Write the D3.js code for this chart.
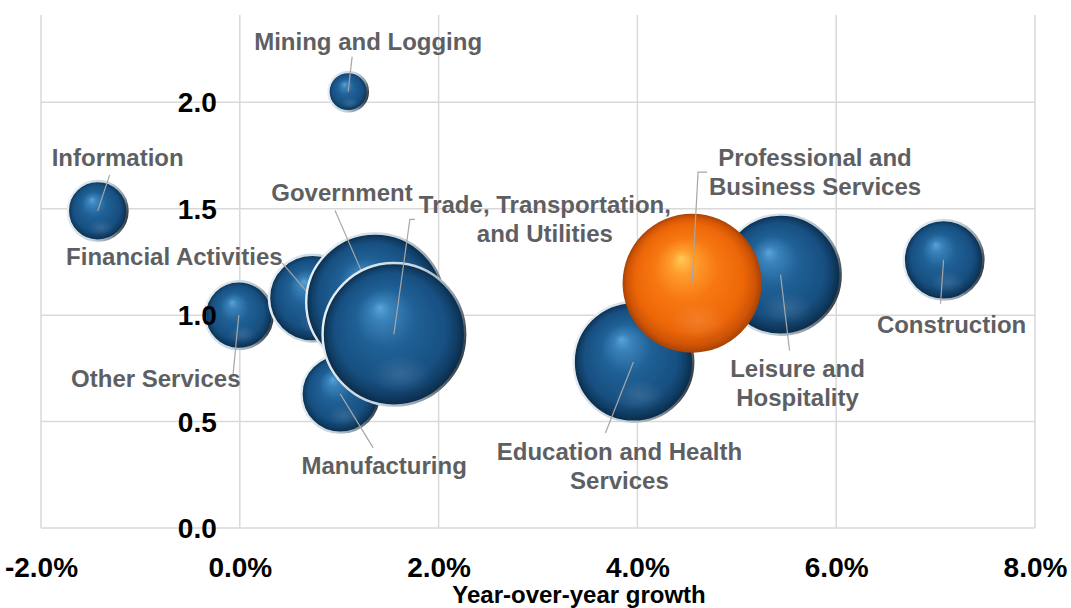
<!DOCTYPE html>
<html>
<head>
<meta charset="utf-8">
<script src="https://cdn.jsdelivr.net/npm/d3@7/dist/d3.min.js"></script>
<style>
  html, body { margin: 0; padding: 0; background: #ffffff; }
  svg { display: block; }
  text { font-family: "Liberation Sans", Arial, Helvetica, sans-serif; font-weight: bold; }
</style>
</head>
<body>
<svg id="chart" width="1071" height="608"></svg>
<script>
// Employment by industry sector: growth vs. ratio, bubble area = jobs (thousands)
const sectors = [
  "Information", "Mining and Logging", "Other Services", "Financial Activities",
  "Government", "Manufacturing", "Trade, Transportation, and Utilities",
  "Education and Health Services", "Leisure and Hospitality",
  "Professional and Business Services", "Construction"
];
const growth = [-1.43, 1.09, -0.01, 0.73, 1.36, 1.01, 1.55, 3.96, 5.44, 4.55, 7.08];
const ratio  = [1.49, 2.05, 1.00, 1.08, 1.06, 0.63, 0.91, 0.78, 1.19, 1.15, 1.26];
const jobs   = [97, 44, 124, 200, 494, 161, 530, 375, 379, 487, 170];
const highlighted = "Professional and Business Services";

const xTicks = [-2, 0, 2, 4, 6, 8];
const yTicks = [0, 0.5, 1.0, 1.5, 2.0];
const xTitle = "Year-over-year growth";

// Label text lines per sector
const labelLines = {
  "Information": ["Information"],
  "Mining and Logging": ["Mining and Logging"],
  "Other Services": ["Other Services"],
  "Financial Activities": ["Financial Activities"],
  "Government": ["Government"],
  "Manufacturing": ["Manufacturing"],
  "Trade, Transportation, and Utilities": ["Trade, Transportation,", "and Utilities"],
  "Education and Health Services": ["Education and Health", "Services"],
  "Leisure and Hospitality": ["Leisure and", "Hospitality"],
  "Professional and Business Services": ["Professional and", "Business Services"],
  "Construction": ["Construction"]
};

// Label placement relative to bubble centre: text offset + leader line path points
const labelLayout = {
  "Information": { dx: 20, dy: -45, leader: [[12, -36]] },
  "Mining and Logging": { dx: 20, dy: -42, leader: [[4, -35]] },
  "Other Services": { dx: -83, dy: 72, leader: [[-6, 62]] },
  "Financial Activities": { dx: -138, dy: -33, leader: [[-30, -35]] },
  "Government": { dx: -33, dy: -101, leader: [[-40, -92]] },
  "Manufacturing": { dx: 44, dy: 80, leader: [[33, 54]] },
  "Trade, Transportation, and Utilities": { dx: 151, dy: -121, leader: [[21, -115], [16, -115]] },
  "Education and Health Services": { dx: -14, dy: 98, leader: [[-28, 71]] },
  "Leisure and Hospitality": { dx: 17, dy: 102, leader: [[9, 76]] },
  "Professional and Business Services": { dx: 123, dy: -117, leader: [[15, -111], [6, -111]] },
  "Construction": { dx: 8, dy: 73, leader: [[-3, 44]] }
};

const svg = d3.select("#chart");
const plot = { left: 41, right: 1035, top: 15, bottom: 528 };

const x = d3.scaleLinear().domain([-2, 8]).range([plot.left, plot.right]);
const y = d3.scaleLinear().domain([0, 2.41]).range([plot.bottom, plot.top]);
const r = d3.scaleSqrt().domain([0, d3.max(jobs)]).range([0, 72.5]);

// ---- gradients ----
const defs = svg.append("defs");

function sphereGradient(id, stops, fx, fy) {
  const g = defs.append("radialGradient").attr("id", id)
    .attr("cx", "50%").attr("cy", "50%").attr("r", "50%")
    .attr("fx", fx).attr("fy", fy);
  stops.forEach(([o, c]) => g.append("stop").attr("offset", o).attr("stop-color", c));
}
sphereGradient("blueBody", [
  [0, "#58a4da"], [0.14, "#3a82ba"], [0.42, "#1f6095"],
  [0.78, "#174f81"], [0.9, "#103e66"], [1, "#0a2a46"]
], "40%", "31%");
sphereGradient("orangeBody", [
  [0, "#ffca55"], [0.18, "#ff9c2c"], [0.45, "#f77812"],
  [0.78, "#ec6608"], [0.92, "#cf5406"], [1, "#a84204"]
], "42%", "32%");

// soft glow low on the sphere
const refl = defs.append("radialGradient").attr("id", "reflection")
  .attr("cx", "50%").attr("cy", "50%").attr("r", "50%");
refl.append("stop").attr("offset", 0).attr("stop-color", "#ffffff").attr("stop-opacity", 0.12);
refl.append("stop").attr("offset", 1).attr("stop-color", "#ffffff").attr("stop-opacity", 0);

// rim: pale on the lit side, dark on the shaded right
const rim = defs.append("linearGradient").attr("id", "rim")
  .attr("x1", "0%").attr("y1", "35%").attr("x2", "100%").attr("y2", "65%");
rim.append("stop").attr("offset", 0).attr("stop-color", "#e8eff4");
rim.append("stop").attr("offset", 0.55).attr("stop-color", "#c3d3de");
rim.append("stop").attr("offset", 0.82).attr("stop-color", "#8d9aa4");
rim.append("stop").attr("offset", 1).attr("stop-color", "#2e3740");

// ---- grid ----
const grid = svg.append("g").attr("class", "grid");
grid.selectAll("line.v").data(xTicks).join("line")
  .attr("class", "v")
  .attr("x1", d => x(d)).attr("x2", d => x(d))
  .attr("y1", plot.top).attr("y2", plot.bottom)
  .attr("stroke", "#d9d9d9").attr("stroke-width", 1.5);
grid.selectAll("line.h").data(yTicks).join("line")
  .attr("class", "h")
  .attr("x1", plot.left).attr("x2", plot.right)
  .attr("y1", d => y(d)).attr("y2", d => y(d))
  .attr("stroke", "#d9d9d9").attr("stroke-width", 1.5);

// ---- bubbles with their labels ----
const data = sectors.map((s, i) => ({
  name: s, gx: growth[i], ry: ratio[i], size: jobs[i]
}));

const items = svg.append("g").selectAll("g.item").data(data).join("g").attr("class", "item");

items.each(function (d) {
  const g = d3.select(this);
  const cx = x(d.gx), cy = y(d.ry), rad = r(d.size);
  const isHi = d.name === highlighted;

  g.append("circle")
    .attr("cx", cx).attr("cy", cy).attr("r", isHi ? rad : rad - 1.2)
    .attr("fill", isHi ? "url(#orangeBody)" : "url(#blueBody)");

  g.append("ellipse")
    .attr("cx", cx + rad * 0.1).attr("cy", cy + rad * 0.55)
    .attr("rx", rad * 0.42).attr("ry", rad * 0.26)
    .attr("fill", "url(#reflection)");

  if (!isHi) {
    g.append("circle")
      .attr("cx", cx).attr("cy", cy).attr("r", rad - 1.2)
      .attr("fill", "none")
      .attr("stroke", "url(#rim)").attr("stroke-width", 2.4);
  }

  const lay = labelLayout[d.name];
  const pts = lay.leader.map(p => [cx + p[0], cy + p[1]]).concat([[cx, cy]]);
  g.append("path")
    .attr("d", d3.line()(pts))
    .attr("fill", "none")
    .attr("stroke", "#a6a6a6").attr("stroke-width", 1.2);

  const t = g.append("text")
    .attr("text-anchor", "middle")
    .attr("fill", "#5e5f63")
    .style("font-size", "24px");
  labelLines[d.name].forEach((line, k) => {
    t.append("tspan")
      .attr("x", cx + lay.dx)
      .attr("y", cy + lay.dy + k * 29)
      .text(line);
  });
});

// ---- axes (drawn over the bubbles) ----
const xAxis = svg.append("g")
  .attr("transform", `translate(0,${plot.bottom})`)
  .call(d3.axisBottom(x).tickValues(xTicks).tickFormat(d => d.toFixed(1) + "%").tickSize(0));
xAxis.select(".domain").remove();
xAxis.selectAll("text")
  .attr("y", 49).attr("dy", null)
  .attr("fill", "#000").style("font-size", "28px");

const yAxis = svg.append("g")
  .attr("transform", `translate(${x(0)},0)`)
  .call(d3.axisLeft(y).tickValues(yTicks).tickFormat(d => d.toFixed(1)).tickSize(0).tickPadding(23));
yAxis.select(".domain").remove();
yAxis.selectAll("text")
  .attr("dy", "0.34em")
  .attr("fill", "#000").style("font-size", "28px");

svg.append("text")
  .attr("x", 579).attr("y", 603)
  .attr("text-anchor", "middle")
  .attr("fill", "#000")
  .style("font-size", "24px")
  .text(xTitle);
</script>
</body>
</html>
